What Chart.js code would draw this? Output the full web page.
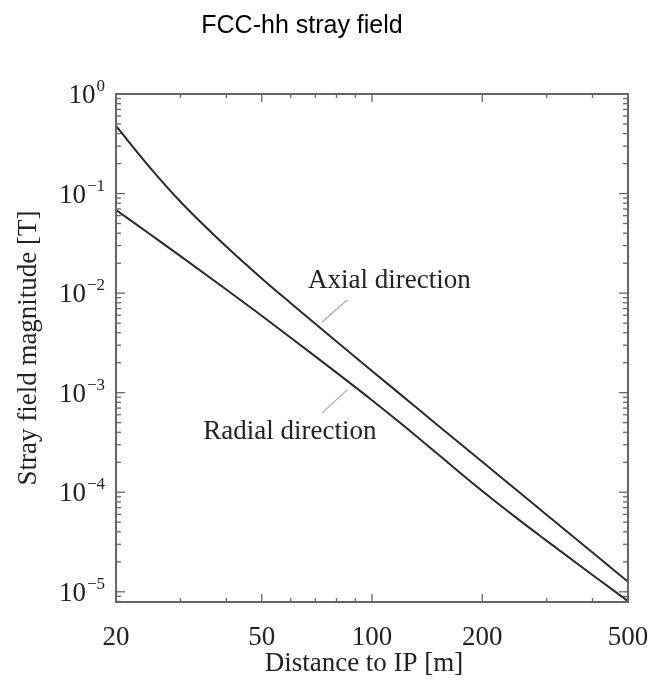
<!DOCTYPE html>
<html><head><meta charset="utf-8">
<script src="https://cdn.jsdelivr.net/npm/chart.js@4.4.1/dist/chart.umd.min.js"></script>
<style>html,body{margin:0;padding:0;background:#fff;}</style>
</head><body>
<canvas id="c" width="654" height="683"></canvas>
<script>
// ---- data ----
const chartTitle = 'FCC-hh stray field';
const xAxisTitle = 'Distance to IP [m]';
const yAxisTitle = 'Stray field magnitude [T]';
const distance    = [20, 25, 30, 40, 50, 60, 70, 80, 100, 120, 150, 200, 250, 300, 400, 500];
const axialField  = [0.4775, 0.1750, 0.0828, 0.02938, 0.01406, 0.00793, 0.00492, 0.003266, 0.001652, 0.000951, 0.000483, 0.0002023, 0.0001028, 5.92e-5, 2.477e-5, 1.259e-5];
const radialField = [0.0684, 0.0381, 0.02355, 0.01089, 0.005916, 0.003565, 0.002317, 0.001589, 0.000841, 0.000490, 0.0002477, 0.0001030, 5.40e-5, 3.25e-5, 1.476e-5, 8.07e-6];
const seriesNames = ['Axial direction', 'Radial direction'];
const xTickValues = [20, 50, 100, 200, 500];
const xMinorTicks = [30, 40, 60, 70, 80, 90, 300, 400];
const yTickValues = [1, 0.1, 0.01, 0.001, 0.0001, 0.00001];
const yTickBase = '10';
const yTickExponents = ['0', '\u22121', '\u22122', '\u22123', '\u22124', '\u22125'];
// annotation anchors (data units)
const axialLabelAt  = {x: 66.9, y: 0.01326};
const radialLabelAt = {x: 34.6, y: 4.04e-4};
const axialLeader  = [{x: 73.1, y: 0.00514}, {x: 85.5, y: 0.00855}];
const radialLeader = [{x: 73.1, y: 6.27e-4}, {x: 85.5, y: 1.067e-3}];

const SERIF = '"Liberation Serif", "Times New Roman", serif';
const pairs = (xs, ys) => xs.map((v, i) => ({x: v, y: ys[i]}));

const framePlugin = {
  id: 'frame',
  afterDraw(chart) {
    const {ctx, chartArea: a, scales: {x, y}} = chart;
    ctx.save();
    // chart title
    ctx.fillStyle = '#000';
    ctx.font = '25px "Liberation Sans", Arial, sans-serif';
    ctx.textAlign = 'center'; ctx.textBaseline = 'alphabetic';
    ctx.fillText(chartTitle, 302, 33);
    // plot box
    ctx.strokeStyle = '#666'; ctx.lineWidth = 2;
    ctx.strokeRect(a.left, a.top, a.right - a.left, a.bottom - a.top);
    // inward tick marks on all four sides
    ctx.lineWidth = 1.3;
    const seg = (x1, y1, x2, y2) => { ctx.beginPath(); ctx.moveTo(x1, y1); ctx.lineTo(x2, y2); ctx.stroke(); };
    const xt = (v, len) => { const p = x.getPixelForValue(v); seg(p, a.bottom, p, a.bottom - len); seg(p, a.top, p, a.top + len); };
    const yt = (v, len) => { const p = y.getPixelForValue(v); if (p < a.top - 0.5 || p > a.bottom + 0.5) return; seg(a.left, p, a.left + len, p); seg(a.right, p, a.right - len, p); };
    xTickValues.forEach(v => xt(v, 8));
    xMinorTicks.forEach(v => xt(v, 4));
    yTickValues.forEach(v => yt(v, 9));
    for (let e = -6; e < 0; e++) for (let m = 2; m <= 9; m++) yt(m * Math.pow(10, e), 5);
    // y tick labels: 10 with superscript exponent
    ctx.fillStyle = '#222';
    const rightEdge = a.left - 11;
    yTickValues.forEach((v, i) => {
      const p = y.getPixelForValue(v);
      ctx.font = '17px ' + SERIF;
      const ew = ctx.measureText(yTickExponents[i]).width;
      ctx.textAlign = 'left'; ctx.textBaseline = 'alphabetic';
      ctx.fillText(yTickExponents[i], rightEdge - ew, p - 3);
      ctx.font = '27px ' + SERIF;
      ctx.textAlign = 'right'; ctx.textBaseline = 'middle';
      ctx.fillText(yTickBase, rightEdge - ew - 1, p + 2);
    });
    // x axis title (slightly left of plot centre, as in the reference)
    ctx.font = '27px ' + SERIF;
    ctx.textAlign = 'center'; ctx.textBaseline = 'middle';
    ctx.fillText(xAxisTitle, (a.left + a.right) / 2 - 8, a.bottom + 62);
    // series labels
    ctx.textAlign = 'left'; ctx.textBaseline = 'middle';
    ctx.fillText(seriesNames[0], x.getPixelForValue(axialLabelAt.x), y.getPixelForValue(axialLabelAt.y));
    ctx.fillText(seriesNames[1], x.getPixelForValue(radialLabelAt.x), y.getPixelForValue(radialLabelAt.y));
    ctx.restore();
  }
};

new Chart(document.getElementById('c'), {
  type: 'line',
  data: {
    datasets: [
      {label: seriesNames[0], data: pairs(distance, axialField), borderColor: '#2a2a2a', borderWidth: 2, pointRadius: 0, cubicInterpolationMode: 'monotone'},
      {label: seriesNames[1], data: pairs(distance, radialField), borderColor: '#2a2a2a', borderWidth: 2, pointRadius: 0, cubicInterpolationMode: 'monotone'},
      {label: 'axial leader', data: axialLeader, borderColor: '#aaa', borderWidth: 1.3, pointRadius: 0},
      {label: 'radial leader', data: radialLeader, borderColor: '#aaa', borderWidth: 1.3, pointRadius: 0}
    ]
  },
  options: {
    responsive: false, animation: false, devicePixelRatio: 1,
    layout: {padding: {left: 15.5, right: 26, top: 94, bottom: 0}},
    plugins: {legend: {display: false}, tooltip: {enabled: false}, title: {display: false}},
    scales: {
      x: {
        type: 'logarithmic', min: 20, max: 500,
        grid: {display: false, drawTicks: false}, border: {display: false},
        afterBuildTicks: s => { s.ticks = xTickValues.map(v => ({value: v})); },
        afterFit: s => { s.height = 81; s.paddingLeft = 0; s.paddingRight = 0; },
        ticks: {color: '#222', padding: 22, font: {family: SERIF, size: 27, lineHeight: 1}, maxRotation: 0, autoSkip: false,
          callback: v => String(v)},
        title: {display: false, text: xAxisTitle}
      },
      y: {
        type: 'logarithmic', min: 7.9e-6, max: 1,
        grid: {display: false, drawTicks: false}, border: {display: false},
        afterBuildTicks: s => { s.ticks = yTickValues.map(v => ({value: v})); },
        afterFit: s => { s.width = 100.5; s.paddingTop = 0; s.paddingBottom = 0; },
        ticks: {display: false},
        title: {display: true, text: yAxisTitle, color: '#222', font: {family: SERIF, size: 27, lineHeight: 1}, padding: {top: 0, bottom: 0}}
      }
    }
  },
  plugins: [framePlugin]
});
</script>
</body></html>
